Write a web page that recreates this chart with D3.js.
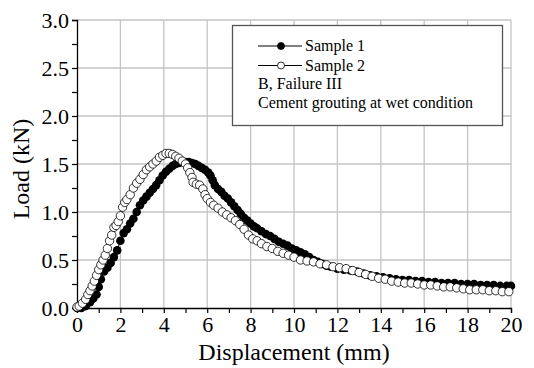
<!DOCTYPE html>
<html>
<head>
<meta charset="utf-8">
<script src="https://cdn.jsdelivr.net/npm/d3@7"></script>
<style>
  body { margin: 0; background: #fff; }
  svg text { font-family: "Liberation Serif", "Times New Roman", serif; fill: #000; }
</style>
</head>
<body>
<div id="chart"></div>
<script>
// sample 1 (filled)
var s1X = [0.0, 0.2, 0.4, 0.6, 0.75, 0.9, 1.0, 1.1, 1.25, 1.4, 1.55, 1.7, 1.85, 2.0, 2.15, 2.3, 2.45, 2.6, 2.75, 2.9,
    3.05, 3.2, 3.35, 3.5, 3.65, 3.8, 3.95, 4.1, 4.25, 4.4, 4.55, 4.7, 4.85, 5.0, 5.15, 5.3, 5.45, 5.6, 5.75, 5.9,
    6.05, 6.15, 6.25, 6.35, 6.5, 6.65, 6.8, 6.95, 7.1, 7.25, 7.4, 7.55, 7.7, 7.85, 8.0, 8.15, 8.3, 8.5, 8.7, 8.9,
    9.1, 9.3, 9.5, 9.7, 9.9, 10.1, 10.3, 10.5, 10.7, 10.9, 11.1, 11.3, 11.5, 11.7, 12.0, 12.3, 12.6, 12.9, 13.2, 13.5,
    13.8, 14.1, 14.4, 14.7, 15.0, 15.3, 15.6, 15.9, 16.2, 16.5, 16.8, 17.1, 17.4, 17.7, 18.0, 18.3, 18.6, 18.9, 19.2, 19.5,
    19.8, 20.0]
var s1Y = [0.00, 0.00, 0.02, 0.06, 0.10, 0.14, 0.22, 0.30, 0.38, 0.42, 0.47, 0.53, 0.60, 0.70, 0.78, 0.82, 0.88, 0.93, 1.00, 1.07,
    1.12, 1.16, 1.20, 1.24, 1.28, 1.33, 1.38, 1.42, 1.45, 1.48, 1.50, 1.51, 1.52, 1.52, 1.52, 1.51, 1.50, 1.48, 1.46, 1.44,
    1.41, 1.38, 1.33, 1.28, 1.24, 1.21, 1.17, 1.14, 1.10, 1.06, 1.02, 0.98, 0.94, 0.91, 0.88, 0.85, 0.83, 0.80, 0.77, 0.75,
    0.72, 0.69, 0.67, 0.65, 0.62, 0.60, 0.58, 0.56, 0.53, 0.50, 0.48, 0.46, 0.44, 0.43, 0.41, 0.40, 0.39, 0.38, 0.36, 0.34,
    0.33, 0.32, 0.31, 0.30, 0.29, 0.29, 0.28, 0.28, 0.27, 0.27, 0.26, 0.26, 0.26, 0.25, 0.25, 0.25, 0.24, 0.24, 0.24, 0.23,
    0.23, 0.23]

// sample 2 (open)
var s2X = [0.0, 0.1, 0.25, 0.4, 0.5, 0.6, 0.7, 0.8, 0.9, 1.0, 1.1, 1.2, 1.3, 1.4, 1.5, 1.6, 1.7, 1.8, 1.9, 2.0,
    2.1, 2.2, 2.3, 2.45, 2.6, 2.75, 2.9, 3.05, 3.2, 3.35, 3.5, 3.65, 3.8, 3.95, 4.1, 4.25, 4.4, 4.55, 4.7, 4.85,
    5.0, 5.1, 5.2, 5.3, 5.35, 5.5, 5.65, 5.8, 5.9, 6.0, 6.15, 6.3, 6.5, 6.7, 6.9, 7.1, 7.3, 7.5, 7.7, 7.9,
    8.1, 8.3, 8.5, 8.75, 9.0, 9.25, 9.5, 9.75, 10.0, 10.3, 10.6, 10.9, 11.2, 11.5, 11.8, 12.1, 12.4, 12.7, 13.0, 13.3,
    13.6, 13.9, 14.2, 14.5, 14.8, 15.1, 15.4, 15.7, 16.0, 16.3, 16.6, 16.9, 17.2, 17.5, 17.8, 18.1, 18.4, 18.7, 19.0, 19.3,
    19.6, 19.9]
var s2Y = [0.01, 0.02, 0.05, 0.09, 0.14, 0.18, 0.23, 0.28, 0.34, 0.40, 0.45, 0.50, 0.55, 0.62, 0.70, 0.76, 0.84, 0.86, 0.90, 0.96,
    1.05, 1.10, 1.13, 1.18, 1.25, 1.30, 1.34, 1.39, 1.44, 1.47, 1.50, 1.53, 1.57, 1.59, 1.61, 1.61, 1.60, 1.58, 1.56, 1.53,
    1.50, 1.46, 1.41, 1.36, 1.31, 1.29, 1.28, 1.24, 1.18, 1.14, 1.10, 1.07, 1.04, 1.00, 0.97, 0.94, 0.91, 0.87, 0.82, 0.76,
    0.72, 0.70, 0.67, 0.64, 0.62, 0.59, 0.57, 0.55, 0.53, 0.50, 0.49, 0.48, 0.46, 0.45, 0.43, 0.42, 0.41, 0.39, 0.37, 0.35,
    0.33, 0.31, 0.30, 0.28, 0.27, 0.26, 0.26, 0.25, 0.24, 0.24, 0.23, 0.22, 0.22, 0.21, 0.20, 0.19, 0.19, 0.19, 0.18, 0.18,
    0.17, 0.17]

var xTicks = [0, 2, 4, 6, 8, 10, 12, 14, 16, 18, 20]
var yTicks = [0.0, 0.5, 1.0, 1.5, 2.0, 2.5, 3.0]
var legendLabels = ["Sample 1", "Sample 2"]
var noteLines = ["B, Failure III", "Cement grouting at wet condition"]

var serif = "'Liberation Serif', 'Times New Roman', serif"
var svgWidth = 534
var svgHeight = 368
var margin = {top: 20, right: 23, bottom: 60, left: 77}
var width = svgWidth - margin.left - margin.right
var height = svgHeight - margin.top - margin.bottom

var svg = d3.select("#chart")
    .append("svg")
    .attr("width", svgWidth)
    .attr("height", svgHeight)
    .attr("font-family", serif)
var chartGroup = svg.append("g")
    .attr("transform", `translate(${margin.left},${margin.top})`)

var xScale = d3.scaleLinear().domain([0, 20]).range([0, width])
var yScale = d3.scaleLinear().domain([0, 3]).range([height, 0])

// grid
chartGroup.append("g")
    .selectAll("line.vg")
    .data(xTicks.slice(1))
    .enter()
    .append("line")
    .attr("x1", d => xScale(d)).attr("x2", d => xScale(d))
    .attr("y1", 0).attr("y2", height)
    .attr("stroke", "#c4c4c4").attr("stroke-width", 1.3)
chartGroup.append("g")
    .selectAll("line.hg")
    .data(yTicks.slice(1))
    .enter()
    .append("line")
    .attr("x1", 0).attr("x2", width)
    .attr("y1", d => yScale(d)).attr("y2", d => yScale(d))
    .attr("stroke", "#c4c4c4").attr("stroke-width", 1.3)

// axes
var bottomAxis = d3.axisBottom(xScale).tickValues(d3.range(0, 21, 1)).tickSize(5)
    .tickFormat(d => d % 2 === 0 ? d : "")
var leftAxis = d3.axisLeft(yScale).tickValues(d3.range(0, 3.01, 0.25)).tickSize(5)
    .tickFormat(d => Math.abs(d * 2 - Math.round(d * 2)) < 1e-6 ? d3.format(".1f")(d) : "")

var xAxis = chartGroup.append("g")
    .attr("transform", `translate(0,${height})`)
    .call(bottomAxis)
var yAxis = chartGroup.append("g")
    .call(leftAxis)

;[xAxis, yAxis].forEach(function (ax) {
    ax.attr("font-family", serif).attr("font-size", 22)
    ax.select(".domain").attr("stroke", "#000").attr("stroke-width", 1.3)
    ax.selectAll(".tick line").attr("stroke", "#000").attr("stroke-width", 1.2)
    ax.selectAll("text").attr("fill", "#000")
})
xAxis.selectAll("text").attr("y", 8)
yAxis.selectAll("text").attr("x", -8)

// axis titles
svg.append("text")
    .attr("x", margin.left + width / 2)
    .attr("y", 360)
    .attr("text-anchor", "middle")
    .attr("font-size", 24)
    .text("Displacement (mm)")
svg.append("text")
    .attr("transform", `translate(29,${margin.top + height / 2 + 5}) rotate(-90)`)
    .attr("text-anchor", "middle")
    .attr("font-size", 24)
    .text("Load (kN)")

// series
var s1 = s1X.map((x, i) => ({x: x, y: s1Y[i]}))
var s2 = s2X.map((x, i) => ({x: x, y: s2Y[i]}))
var line = d3.line().x(d => xScale(d.x)).y(d => yScale(d.y))

chartGroup.append("path").datum(s1)
    .attr("d", line).attr("fill", "none").attr("stroke", "#000").attr("stroke-width", 1)
chartGroup.selectAll(".s1")
    .data(s1)
    .enter()
    .append("circle")
    .classed("s1", true)
    .attr("cx", d => xScale(d.x))
    .attr("cy", d => yScale(d.y))
    .attr("r", 4.3)
    .attr("fill", "#000")

chartGroup.append("path").datum(s2)
    .attr("d", line).attr("fill", "none").attr("stroke", "#000").attr("stroke-width", 1)
chartGroup.selectAll(".s2")
    .data(s2)
    .enter()
    .append("circle")
    .classed("s2", true)
    .attr("cx", d => xScale(d.x))
    .attr("cy", d => yScale(d.y))
    .attr("r", 4.2)
    .attr("fill", "#fff")
    .attr("stroke", "#000")
    .attr("stroke-width", 0.8)

// legend
var legend = svg.append("g")
legend.append("rect")
    .attr("x", 232.5).attr("y", 25.5)
    .attr("width", 270).attr("height", 100)
    .attr("fill", "#fff").attr("stroke", "#555").attr("stroke-width", 1.3)

legendLabels.forEach(function (label, i) {
    var y = 46 + i * 19.5
    legend.append("line")
        .attr("x1", 258).attr("x2", 302).attr("y1", y).attr("y2", y)
        .attr("stroke", "#000").attr("stroke-width", 1.2)
    legend.append("circle")
        .attr("cx", 281).attr("cy", y).attr("r", 3.5)
        .attr("fill", i === 0 ? "#000" : "#fff")
        .attr("stroke", "#000").attr("stroke-width", 0.8)
    legend.append("text")
        .attr("x", 305).attr("y", y + 5)
        .attr("font-size", 16)
        .text(label)
})
noteLines.forEach(function (t, i) {
    legend.append("text")
        .attr("x", 258).attr("y", 89 + i * 19)
        .attr("font-size", 16)
        .text(t)
})
</script>
</body>
</html>
